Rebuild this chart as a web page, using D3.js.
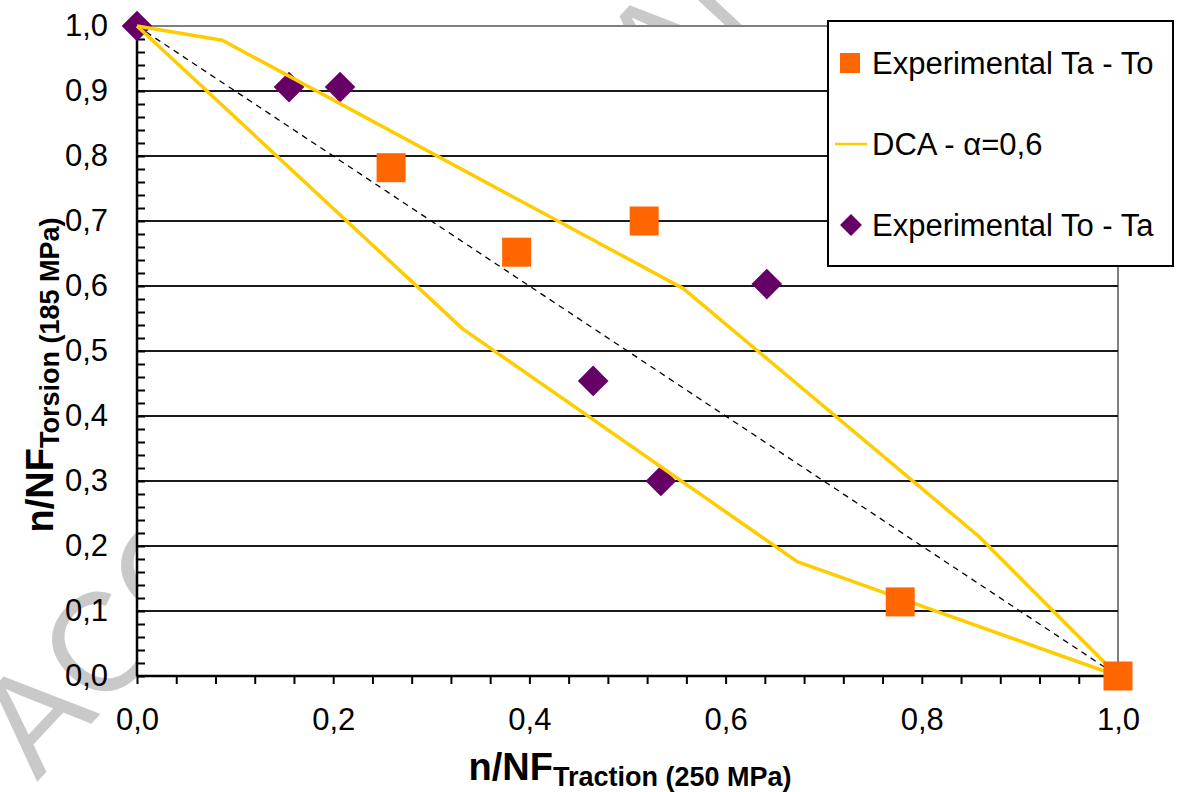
<!DOCTYPE html>
<html lang="en">
<head>
<meta charset="UTF-8">
<title>n/NF Traction vs Torsion</title>
<style>
    body { margin: 0; background: #fff; }
    svg { display: block; font-family: "Liberation Sans", Arial, sans-serif; }
    .tick text { font-size: 31px; fill: #000; }
    .domain { display: none; }
</style>
</head>
<body>
<svg id="chart" width="1177" height="792"></svg>
<script src="https://d3js.org/d3.v7.min.js"></script>
<script>

// values
var squareX = [0.259, 0.387, 0.517, 0.778, 1.0];      // Experimental Ta - To
var squareY = [0.782, 0.652, 0.700, 0.114, 0.0];
var diamondX = [0.0, 0.155, 0.207, 0.465, 0.534, 0.642]; // Experimental To - Ta
var diamondY = [1.0, 0.906, 0.906, 0.454, 0.300, 0.603];
var dcaUpperX = [0.0, 0.087, 0.557, 0.858, 1.0];     // DCA - alpha=0,6
var dcaUpperY = [1.0, 0.978, 0.596, 0.215, 0.0];
var dcaLowerX = [0.0, 0.332, 0.673, 1.0];
var dcaLowerY = [1.0, 0.534, 0.176, 0.0];
var diagX = [0.0, 1.0];
var diagY = [1.0, 0.0];
var tickValues = [0.0, 0.2, 0.4, 0.6, 0.8, 1.0];
var yTickValues = [0.0, 0.1, 0.2, 0.3, 0.4, 0.5, 0.6, 0.7, 0.8, 0.9, 1.0];
var legendLabels = ["Experimental Ta - To", "DCA - \u03b1=0,6", "Experimental To - Ta"];

var plotLeft = 137, plotRight = 1118, plotTop = 26, plotBottom = 676;

var svg = d3.select("#chart");

var x = d3.scaleLinear().domain([0, 1]).range([plotLeft, plotRight]);
var y = d3.scaleLinear().domain([0, 1]).range([plotBottom, plotTop]);

var fmt = d3.formatLocale({decimal: ",", thousands: ".", grouping: [3], currency: ["", ""]}).format(".1f");

function zip(xs, ys) { return xs.map(function(d, i) { return [d, ys[i]]; }); }

// watermark behind the plot area
svg.append("text")
    .attr("transform", "translate(37,782) rotate(-47)")
    .style("font-size", "140px")
    .style("fill", "#c9c9c9")
    .text("ACCEPTED MANUSCRIPT");

// plot area
svg.append("rect")
    .attr("x", plotLeft).attr("y", plotTop)
    .attr("width", plotRight - plotLeft).attr("height", plotBottom - plotTop)
    .attr("fill", "#fff")
    .attr("stroke", "#808080")
    .attr("stroke-width", 2);

// gridlines
svg.append("g").selectAll("line")
    .data(yTickValues.filter(function(d) { return d > 0 && d < 1; }))
    .enter().append("line")
    .attr("x1", plotLeft).attr("x2", plotRight)
    .attr("y1", function(d) { return y(d); })
    .attr("y2", function(d) { return y(d); })
    .attr("stroke", "#1a1a1a")
    .attr("stroke-width", 2);

// axes lines
svg.append("line").attr("x1", plotLeft).attr("x2", plotLeft).attr("y1", plotTop).attr("y2", plotBottom)
    .attr("stroke", "#000").attr("stroke-width", 2.5);
svg.append("line").attr("x1", plotLeft).attr("x2", plotRight).attr("y1", plotBottom).attr("y2", plotBottom)
    .attr("stroke", "#000").attr("stroke-width", 2.5);

// minor ticks on y, pointing inside
svg.append("g")
    .attr("transform", "translate(" + plotLeft + ",0)")
    .call(d3.axisRight(y).tickValues(d3.range(0, 51).map(function(i) { return i / 50; })).tickSize(8).tickFormat(""))
    .selectAll("line").attr("stroke", "#000").attr("stroke-width", 2);

// ticks on x, pointing outside
svg.append("g")
    .attr("transform", "translate(0," + plotBottom + ")")
    .call(d3.axisBottom(x).tickValues(d3.range(0, 26).map(function(i) { return i / 25; })).tickSize(8).tickFormat(""))
    .selectAll("line").attr("stroke", "#000").attr("stroke-width", 2);

// tick labels
svg.append("g")
    .attr("transform", "translate(" + plotLeft + ",0)")
    .call(d3.axisLeft(y).tickValues(yTickValues).tickSize(0).tickPadding(29).tickFormat(fmt));

svg.append("g")
    .attr("transform", "translate(0," + plotBottom + ")")
    .call(d3.axisBottom(x).tickValues(tickValues).tickSize(0).tickPadding(32).tickFormat(fmt));

var line = d3.line().x(function(d) { return x(d[0]); }).y(function(d) { return y(d[1]); });

// dashed diagonal
svg.append("path")
    .attr("d", line(zip(diagX, diagY)))
    .attr("fill", "none")
    .attr("stroke", "#000")
    .attr("stroke-width", 1.3)
    .attr("stroke-dasharray", "6,5");

// diamonds
var diamond = d3.symbol().type(d3.symbolSquare).size(470);
svg.append("g").selectAll("path")
    .data(zip(diamondX, diamondY))
    .enter().append("path")
    .attr("d", diamond)
    .attr("transform", function(d) { return "translate(" + x(d[0]) + "," + y(d[1]) + ") rotate(45)"; })
    .attr("fill", "#660066");

// DCA curves
[zip(dcaUpperX, dcaUpperY), zip(dcaLowerX, dcaLowerY)].forEach(function(pts) {
    svg.append("path")
        .attr("d", line(pts))
        .attr("fill", "none")
        .attr("stroke", "#ffcc00")
        .attr("stroke-width", 3.5)
        .attr("stroke-linejoin", "round");
});

// squares
svg.append("g").selectAll("rect")
    .data(zip(squareX, squareY))
    .enter().append("rect")
    .attr("x", function(d) { return x(d[0]) - 14.5; })
    .attr("y", function(d) { return y(d[1]) - 14.5; })
    .attr("width", 29).attr("height", 29)
    .attr("fill", "#ff6600");

// axis titles
var yt = svg.append("text")
    .attr("transform", "translate(53,375) rotate(-90)")
    .attr("text-anchor", "middle")
    .style("font-weight", "bold");
yt.append("tspan").style("font-size", "38px").text("n/NF");
yt.append("tspan").style("font-size", "27px").attr("dy", 6).text("Torsion (185 MPa)");

var xt = svg.append("text")
    .attr("transform", "translate(630,780)")
    .attr("text-anchor", "middle")
    .style("font-weight", "bold");
xt.append("tspan").style("font-size", "38px").text("n/NF");
xt.append("tspan").style("font-size", "27px").attr("dy", 6).text("Traction (250 MPa)");

// legend
var lg = svg.append("g");
lg.append("rect")
    .attr("x", 828).attr("y", 21)
    .attr("width", 345).attr("height", 245)
    .attr("fill", "#fff")
    .attr("stroke", "#000")
    .attr("stroke-width", 2);

var rowY = [63, 144, 225];
lg.append("rect").attr("x", 840).attr("y", rowY[0] - 10).attr("width", 20).attr("height", 20).attr("fill", "#ff6600");
lg.append("line").attr("x1", 835).attr("x2", 867).attr("y1", rowY[1]).attr("y2", rowY[1])
    .attr("stroke", "#ffcc00").attr("stroke-width", 2.5);
lg.append("path").attr("d", d3.symbol().type(d3.symbolSquare).size(240))
    .attr("transform", "translate(851," + rowY[2] + ") rotate(45)")
    .attr("fill", "#660066");

lg.selectAll("text.leg")
    .data(legendLabels)
    .enter().append("text")
    .attr("class", "leg")
    .attr("x", 872)
    .attr("y", function(d, i) { return rowY[i] + 11; })
    .style("font-size", "31px")
    .text(function(d) { return d; });

</script>
</body>
</html>
